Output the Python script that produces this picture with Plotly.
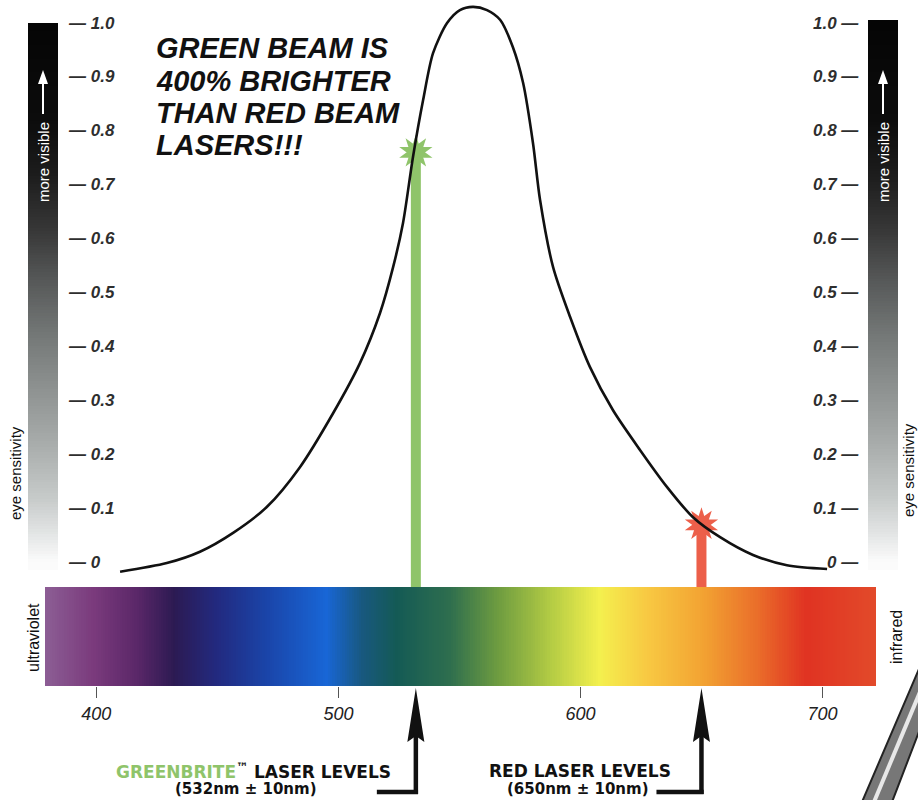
import numpy as np
import plotly.graph_objects as go

# ---------------- data ----------------
wavelength_nm = [409.8, 429.1, 442.8, 456.5, 470.4, 484.1, 497.8, 508.9, 517.2, 522.6,
                 526.7, 530.8, 535.0, 539.1, 544.9, 550.2, 555.6, 561.4, 566.8, 572.1,
                 576.3, 580.4, 583.3, 588.7, 595.7, 603.9, 613.4, 624.6, 635.8, 646.5,
                 657.7, 671.3, 685.3, 701.9]
eye_sensitivity = [-0.018, -0.002, 0.019, 0.054, 0.102, 0.176, 0.276, 0.369, 0.462, 0.547,
                   0.629, 0.751, 0.857, 0.944, 1.000, 1.024, 1.030, 1.024, 1.006, 0.955,
                   0.889, 0.777, 0.672, 0.547, 0.455, 0.362, 0.282, 0.208, 0.139, 0.083,
                   0.046, 0.013, -0.006, -0.013]

laser_nm = [532, 650]
laser_sens = [0.76, 0.069]
laser_colors = ["#8fc46a", "#ec5f4a"]

sens_ticks = [0.0, 0.1, 0.2, 0.3, 0.4, 0.5, 0.6, 0.7, 0.8, 0.9, 1.0]
sens_ticklabels = ["0", "0.1", "0.2", "0.3", "0.4", "0.5", "0.6", "0.7", "0.8", "0.9", "1.0"]
wl_ticks = [400, 500, 600, 700]
wl_ticklabels = ["400", "500", "600", "700"]

spectrum_nm = [378, 381, 399, 417, 432, 450, 470, 495, 510, 524, 546, 566, 588, 608,
               628, 651, 673, 693, 722]
spectrum_colors = ["#8e5e96", "#8a5a92", "#7a3a7c", "#5a2768", "#2c1a52", "#222a80",
                   "#1a44a8", "#1866d6", "#18587e", "#145a55", "#2e6e4e", "#6e9c40",
                   "#b4cc44", "#f4f04e", "#f8c842", "#f2a232", "#ea6e2a", "#e03322",
                   "#e24a2a"]

title_lines = ["GREEN BEAM IS", "400% BRIGHTER", "THAN RED BEAM", "LASERS!!!"]

# ---------------- canvas geometry ----------------
W, H = 918, 800
PX_PER_NM = 2.4204
NM_AT_PX0 = 871.8 / PX_PER_NM
Y0_PX = 562
PX_PER_UNIT = 539


def nm_at(px):
    return NM_AT_PX0 + px / PX_PER_NM


def val_at(py):
    return (Y0_PX - py) / PX_PER_UNIT


def fx(px):
    return px / W


def fy(py):
    return 1 - py / H


SPEC_TOP, SPEC_BOT = 587, 686
spec_top_val = val_at(SPEC_TOP)

fig = go.Figure()

# spectrum band
n = 344
edges = np.linspace(nm_at(45), nm_at(876), n + 1)
centers = (edges[:-1] + edges[1:]) / 2
lo, hi = spectrum_nm[0], spectrum_nm[-1]
spec_scale = [[(v - lo) / (hi - lo), c] for v, c in zip(spectrum_nm, spectrum_colors)]
fig.add_trace(go.Heatmap(x=edges, y=[val_at(SPEC_BOT), val_at(SPEC_TOP)], z=[centers],
                         colorscale=spec_scale, zmin=lo, zmax=hi, showscale=False,
                         hoverinfo="skip"))

# eye-sensitivity gradient bars
grey_scale = [[0.0, "#fbfbfb"], [0.05, "#e4e6e6"], [0.12, "#c6cac9"], [0.22, "#a8acab"],
              [0.32, "#8e9291"], [0.42, "#747877"], [0.52, "#575959"], [0.62, "#363636"],
              [0.72, "#1c1c1c"], [0.82, "#0c0c0c"], [1.0, "#050505"]]
for left_px, top_py in [(28, 23), (868, 20)]:
    ye = np.linspace(val_at(570), val_at(top_py), 201)
    yc = (ye[:-1] + ye[1:]) / 2
    fig.add_trace(go.Heatmap(x=[nm_at(left_px), nm_at(left_px + 30)], y=ye,
                             z=[[v] for v in yc], colorscale=grey_scale, zmin=0, zmax=1,
                             showscale=False, hoverinfo="skip"))

# laser beams
fig.add_trace(go.Bar(x=laser_nm, y=[s - spec_top_val for s in laser_sens], base=spec_top_val,
                     width=10 / PX_PER_NM, marker=dict(color=laser_colors, line=dict(width=0)),
                     hoverinfo="skip"))
for ang in (0, 36):
    fig.add_trace(go.Scatter(x=laser_nm, y=laser_sens, mode="markers", hoverinfo="skip",
                             marker=dict(symbol="star", size=25, angle=ang, color=laser_colors,
                                         line=dict(width=0))))

# eye sensitivity curve
fig.add_trace(go.Scatter(x=wavelength_nm, y=eye_sensitivity, mode="lines",
                         line=dict(color="#111111", width=2.6, shape="spline", smoothing=0.8),
                         hoverinfo="skip"))

ann = []
tick_font = dict(family="Liberation Sans", size=17, color="#2e2e2e", style="italic", weight="bold")
for v, lab in zip(sens_ticks, sens_ticklabels):
    ann.append(dict(x=fx(66), xref="paper", y=v, yref="y", xanchor="left", yanchor="middle",
                    text="\u2014 " + lab, showarrow=False, font=tick_font))
    ann.append(dict(x=fx(861), xref="paper", y=v, yref="y", xanchor="right", yanchor="middle",
                    text=lab + " \u2014", showarrow=False, font=tick_font))


def vtext(text, cx, cy, size, color):
    return dict(x=fx(cx), y=fy(cy), xref="paper", yref="paper", xanchor="center",
                yanchor="middle", text=text, textangle=-90, showarrow=False,
                font=dict(family="Liberation Sans", size=size, color=color))


for cx in (43, 883):
    ann.append(vtext("more visible", cx, 162, 15, "white"))
ann.append(vtext("eye sensitivity", 15, 473, 15, "#111111"))
ann.append(vtext("eye sensitivity", 908, 470, 15, "#111111"))
ann.append(vtext("ultraviolet", 33, 638, 16, "#111111"))
ann.append(vtext("infrared", 896, 637, 16, "#111111"))

for line, cy in zip(title_lines, [48, 81, 113, 145]):
    ann.append(dict(x=fx(154), y=fy(cy), xref="paper", yref="paper", xanchor="left",
                    yanchor="middle", showarrow=False, text=line,
                    font=dict(family="Liberation Sans", size=29, color="#111111",
                              style="italic", weight="bold")))

low_font = dict(family="DejaVu Sans", size=17, color="#111111", weight="bold")
sub_font = dict(family="DejaVu Sans", size=15, color="#111111", weight="bold")
ann.append(dict(x=fx(393), y=fy(771), xref="paper", yref="paper", xanchor="right",
                yanchor="middle", showarrow=False, font=low_font,
                text="<span style='color:#8fc46a'>GREENBRITE</span><sup>\u2122</sup> LASER LEVELS"))
ann.append(dict(x=fx(246), y=fy(789), xref="paper", yref="paper", xanchor="center",
                yanchor="middle", showarrow=False, font=sub_font, text="(532nm \u00b1 10nm)"))
ann.append(dict(x=fx(580), y=fy(771), xref="paper", yref="paper", xanchor="center",
                yanchor="middle", showarrow=False, font=low_font, text="RED LASER LEVELS"))
ann.append(dict(x=fx(578), y=fy(789), xref="paper", yref="paper", xanchor="center",
                yanchor="middle", showarrow=False, font=sub_font, text="(650nm \u00b1 10nm)"))

shapes = []
# white "more visible" arrows inside the gradient bars
for cx in (43, 883):
    shapes.append(dict(type="line", xref="paper", yref="paper", x0=fx(cx), x1=fx(cx),
                       y0=fy(114), y1=fy(80), line=dict(color="white", width=2)))
    shapes.append(dict(type="path", xref="paper", yref="paper", fillcolor="white",
                       line=dict(width=0),
                       path=f"M {fx(cx)},{fy(70)} L {fx(cx + 5)},{fy(84)} "
                            f"L {fx(cx - 5)},{fy(84)} Z"))

# laser pointer arrows
for L, left_len in zip(laser_nm, [39, 45]):
    hw = 8.5 / PX_PER_NM
    shapes.append(dict(type="path", xref="x", yref="paper", fillcolor="#111111",
                       line=dict(width=0),
                       path=f"M {L},{fy(688)} L {L + hw},{fy(742)} L {L},{fy(736)} "
                            f"L {L - hw},{fy(742)} Z"))
    shapes.append(dict(type="line", xref="x", yref="paper", x0=L, x1=L, y0=fy(730), y1=fy(794),
                       line=dict(color="#111111", width=4.5)))
    shapes.append(dict(type="line", xref="x", yref="paper", x0=L - left_len / PX_PER_NM,
                       x1=L + 2.2 / PX_PER_NM, y0=fy(792), y1=fy(792),
                       line=dict(color="#111111", width=4.5)))

# pen in the bottom-right corner
shapes.append(dict(type="path", xref="paper", yref="paper", fillcolor="#777777",
                   line=dict(color="#222222", width=2),
                   path=f"M {fx(862)},{fy(802)} L {fx(925)},{fy(655)} L {fx(935)},{fy(690)} "
                        f"L {fx(892)},{fy(802)} Z"))
shapes.append(dict(type="line", xref="paper", yref="paper", x0=fx(874), y0=fy(802),
                   x1=fx(925), y1=fy(680), line=dict(color="#e8e8e8", width=4)))

fig.update_layout(
    width=W, height=H, margin=dict(l=0, r=0, t=0, b=0),
    paper_bgcolor="white", plot_bgcolor="white", showlegend=False,
    xaxis=dict(range=[nm_at(0), nm_at(W)], domain=[0, 1], anchor="free", position=fy(SPEC_BOT),
               tickvals=wl_ticks, ticktext=wl_ticklabels, ticks="outside", ticklen=11,
               tickwidth=1.2, tickcolor="#555555", showgrid=False, zeroline=False,
               showline=False, fixedrange=True,
               tickfont=dict(family="Liberation Sans", size=18, color="#222222",
                             style="italic")),
    yaxis=dict(range=[val_at(H), val_at(0)], domain=[0, 1], visible=False, fixedrange=True),
    annotations=ann, shapes=shapes,
)

fig.write_html("out.html", config={"displayModeBar": False},
               post_script="document.body.style.margin='0';")
